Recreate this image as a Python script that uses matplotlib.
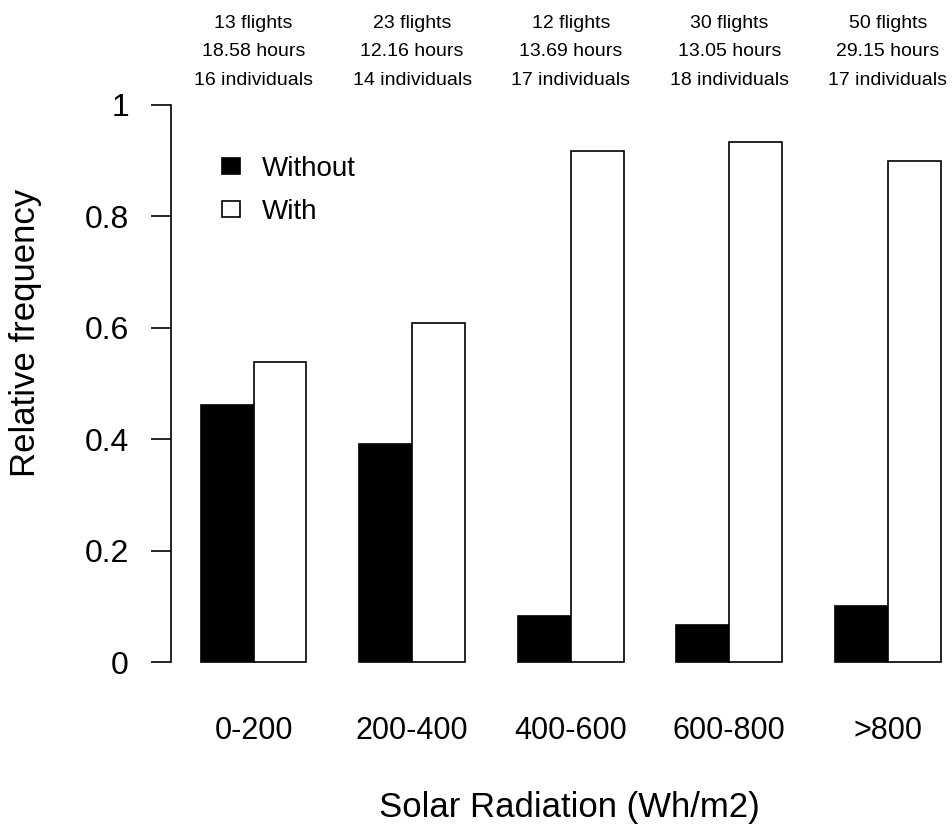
import matplotlib
matplotlib.use("Agg")
import matplotlib.pyplot as plt
import matplotlib.transforms as mtransforms
import numpy as np

# Radiation classes and flight summaries
categories = ["0-200", "200-400", "400-600", "600-800", ">800"]
flights = [13, 23, 12, 30, 50]
hours = ["18.58", "12.16", "13.69", "13.05", "29.15"]
individuals = [16, 14, 17, 18, 17]

# Relative frequency of flights without / with the behaviour
without_vals = [6 / 13, 9 / 23, 1 / 12, 2 / 30, 5 / 50]
with_vals = [7 / 13, 14 / 23, 11 / 12, 28 / 30, 45 / 50]

plt.rcParams["font.family"] = ["Liberation Sans", "DejaVu Sans"]

W, H = 953, 831
fig = plt.figure(figsize=(W / 100, H / 100), dpi=100)

# plot region in pixels (R-style barplot geometry: unit bars, one-unit gaps)
px_unit = 52.86
left_px = 171.1
top_px, bot_px = 82.7, 684.3
ax = fig.add_axes([left_px / W, 1 - bot_px / H, (W - left_px) / W, (bot_px - top_px) / H])
ax.set_xlim(0.44, 0.44 + (W - left_px) / px_unit)
ax.set_ylim(-0.04, 1.04)

g = np.arange(len(categories))
x_without = 1.5 + 3 * g
x_with = 2.5 + 3 * g
ax.bar(x_without, without_vals, width=1.0, color="black", edgecolor="black",
       linewidth=1.2, label="Without")
ax.bar(x_with, with_vals, width=1.0, color="white", edgecolor="black",
       linewidth=1.2, label="With")

for s in ["top", "right", "bottom"]:
    ax.spines[s].set_visible(False)
ax.spines["left"].set_bounds(0, 1)
ax.spines["left"].set_linewidth(1.2)
ax.set_yticks([0, 0.2, 0.4, 0.6, 0.8, 1.0])
ax.set_yticklabels(["0", "0.2", "0.4", "0.6", "0.8", "1"])
ax.tick_params(axis="y", direction="out", length=14.4, width=1.2, pad=16, labelsize=23)
ax.tick_params(axis="x", length=0, labelbottom=False)

# category labels under each group
centers = 2 + 3 * g
tr = mtransforms.blended_transform_factory(ax.transData, fig.transFigure)
for c, lab in zip(centers, categories):
    ax.text(c, 1 - 739 / H, lab, transform=tr, ha="center", va="baseline", fontsize=22)

# flight summaries above each group
for c, f, h, n in zip(centers, flights, hours, individuals):
    for line, base in zip([f"{f} flights", f"{h} hours", f"{n} individuals"], [27.5, 56.5, 85.0]):
        ax.text(c, 1 - base / H, line, transform=tr, ha="center", va="baseline",
                fontsize=14, clip_on=False)

fig.text(569 / W, 1 - 816.7 / H, "Solar Radiation (Wh/m2)", ha="center", va="baseline",
         fontsize=25)
fig.text(35 / W, 1 - 333 / H, "Relative frequency", rotation=90, rotation_mode="anchor",
         ha="center", va="baseline", fontsize=25)

leg = ax.legend(loc="upper left", bbox_to_anchor=(221.7 / W, 1 - 156 / H),
                bbox_transform=fig.transFigure, frameon=False, fontsize=20,
                handlelength=0.65, handleheight=0.5, handletextpad=0.8,
                labelspacing=0.62, borderpad=0, borderaxespad=0)

fig.savefig("out.png", dpi=100)
